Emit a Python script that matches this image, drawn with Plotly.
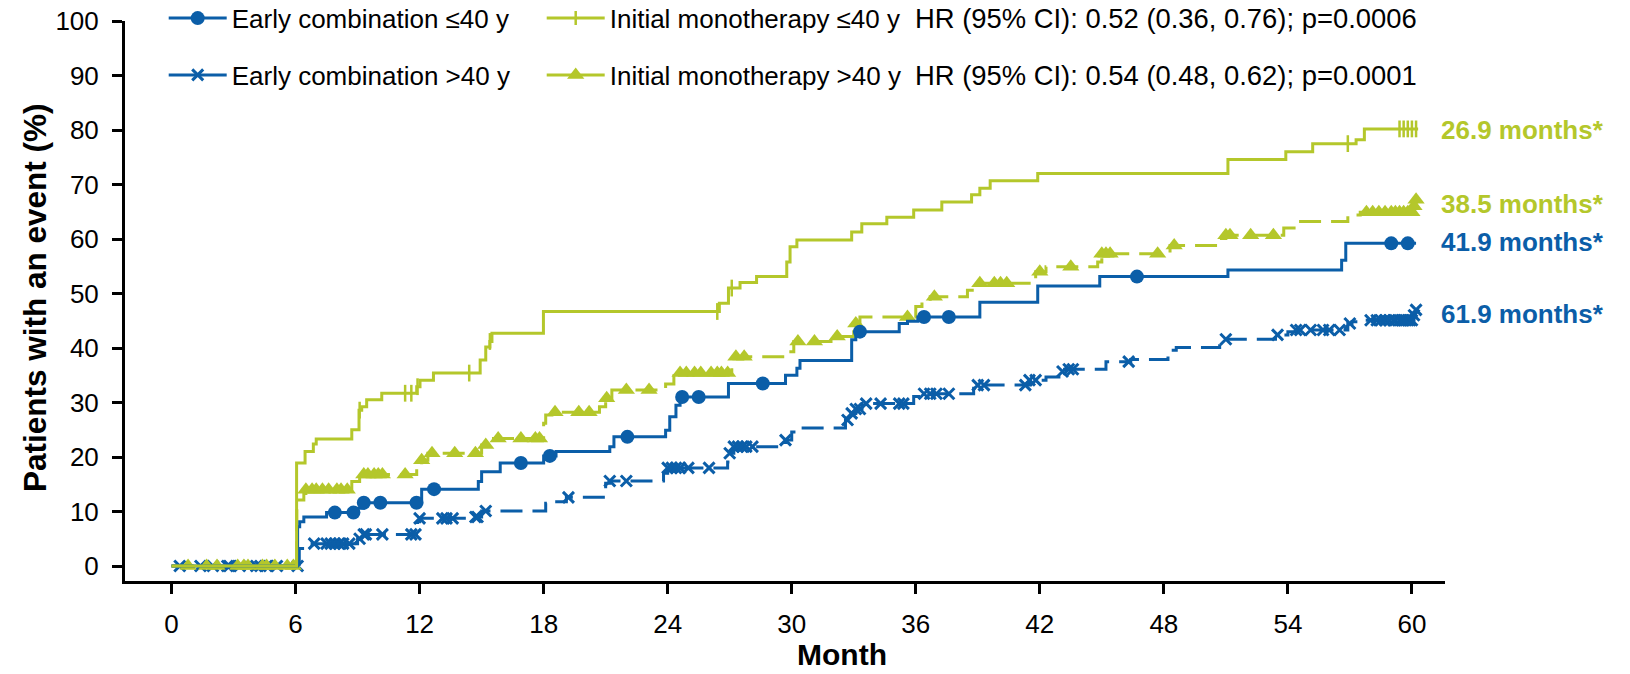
import numpy as np
import plotly.graph_objects as go

# ---------------- data ----------------
x_ticks = [0, 6, 12, 18, 24, 30, 36, 42, 48, 54, 60]
y_ticks = [0, 10, 20, 30, 40, 50, 60, 70, 80, 90, 100]

series_names = ["Early combination ≤40 y", "Initial monotherapy ≤40 y",
                "Early combination >40 y", "Initial monotherapy >40 y"]

# Early combination <=40 y (step function: time of change, cumulative %)
ec_le40_t = [0, 6.1, 6.2, 6.4, 7.5, 9.0, 9.3, 12.1, 14.84, 15.0, 15.9, 18.0, 18.6, 21.2, 21.4,
             23.9, 24.1, 24.4, 24.6, 26.94, 29.7, 30.25, 30.4, 32.9, 33.1, 35.2, 35.6, 36.1,
             39.1, 41.9, 44.9, 51.1, 56.6, 56.8, 60.2]
ec_le40_v = [0, 7.2, 8.1, 9.0, 9.8, 10.6, 11.6, 14.1, 15.5, 17.3, 18.9, 20.2, 21.0, 21.9, 23.7,
             24.9, 27.4, 29.5, 31.0, 33.5, 35.0, 36.3, 37.7, 41.5, 43.0, 44.5, 44.9, 45.7,
             48.4, 51.4, 53.1, 54.3, 56.1, 59.2, 59.2]
ec_le40_cens = [7.9, 8.8, 9.3, 10.1, 11.85, 12.7, 16.9, 18.3, 22.05, 24.7, 25.5, 28.6, 33.3,
                36.4, 37.6, 46.7, 59.0, 59.8]

# Early combination >40 y
ec_gt40_t = [0, 6.18, 6.8, 9.0, 9.3, 11.85, 11.9, 12.0, 14.7, 15.0, 18.1, 18.3, 19.1, 21.0, 21.2,
             23.8, 24.0, 26.9, 27.0, 27.2, 29.7, 30.0, 30.3, 32.6, 32.8, 33.1, 33.4, 35.9, 36.3,
             38.8, 39.0, 41.5, 42.3, 43.0, 43.2, 45.2, 46.4, 48.2, 48.6, 50.7, 51.0, 53.4, 54.0,
             54.4, 56.9, 57.1, 57.6, 60.1, 60.2]
ec_gt40_v = [0, 3.2, 4.1, 5.0, 5.8, 6.8, 8.1, 8.75, 9.0, 10.1, 11.5, 11.8, 12.6, 15.2, 15.6,
             17.0, 18.0, 19.1, 20.7, 21.9, 23.1, 24.6, 25.3, 26.8, 28.0, 28.8, 29.8, 31.1, 31.6,
             32.6, 33.2, 34.1, 34.7, 35.7, 36.1, 37.5, 37.9, 39.6, 40.1, 40.9, 41.6, 42.4, 43.0,
             43.3, 44.5, 44.8, 45.1, 46.0, 47.0]
ec_gt40_cens = [0.4, 1.4, 2.0, 2.7, 2.8, 3.3, 4.1, 4.3, 4.6, 5.1, 6.1, 6.9, 7.5, 7.7, 7.9, 8.1,
                8.3, 8.6, 9.1, 9.3, 9.4, 10.2, 11.6, 11.8, 12.0, 13.1, 13.3, 13.6, 14.7, 14.8,
                15.2, 19.2, 21.2, 22.0, 24.0, 24.2, 24.4, 24.6, 25.0, 26.0, 27.0, 27.2, 27.4,
                27.6, 27.8, 28.1, 29.7, 32.7, 32.9, 33.1, 33.3, 33.6, 34.3, 35.2, 35.4, 36.4,
                36.7, 37.0, 37.6, 39.0, 39.3, 41.3, 41.5, 41.8, 43.1, 43.4, 43.6, 46.3, 51.0,
                53.5, 54.4, 54.6, 55.1, 55.7, 56.0, 56.5, 57.0, 58.0, 58.3, 58.5, 58.7, 58.9,
                59.1, 59.2, 59.4, 59.5, 59.6, 59.7, 59.8, 59.9, 60.0, 60.1, 60.2]

# Initial monotherapy <=40 y
im_le40_t = [0, 6.05, 6.46, 6.86, 7.0, 8.72, 9.07, 9.2, 9.44, 10.17, 11.86, 12.02, 12.67, 14.93,
             15.2, 15.4, 15.5, 17.99, 26.5, 26.94, 27.5, 28.3, 29.76, 29.92, 30.25, 32.9, 33.39,
             34.6, 35.9, 37.26, 38.7, 39.1, 39.6, 41.9, 51.1, 53.9, 55.2, 57.3, 57.7, 60.3]
im_le40_v = [0, 18.9, 21.0, 22.4, 23.3, 25.0, 28.6, 29.2, 30.5, 31.7, 32.9, 34.1, 35.4, 37.8,
             40.2, 41.2, 42.7, 46.7, 48.2, 51.0, 52.0, 53.1, 55.8, 58.6, 59.8, 61.3, 62.8,
             64.0, 65.3, 66.8, 68.1, 69.3, 70.7, 72.0, 74.6, 76.0, 77.5, 78.2, 80.2, 80.2]
im_le40_cens = [9.1, 11.3, 11.6, 11.9, 14.4, 15.4, 26.4, 27.1, 56.9, 59.4, 59.6, 59.8, 60.0, 60.2]

# Initial monotherapy >40 y
im_gt40_t = [0, 6.06, 6.4, 6.5, 8.72, 9.1, 11.86, 12.1, 12.4, 15.0, 15.5, 18.0, 18.1, 18.4, 20.7,
             21.0, 21.3, 23.9, 24.3, 27.1, 27.2, 29.8, 30.1, 31.9, 33.0, 33.3, 36.0, 36.3, 36.7,
             38.5, 39.0, 41.8, 42.3, 44.8, 45.0, 48.3, 50.7, 51.0, 53.8, 54.3, 56.9, 57.5, 60.1,
             60.2]
im_gt40_v = [0, 12.1, 13.3, 14.0, 15.5, 16.8, 18.2, 19.4, 20.7, 22.2, 23.4, 26.2, 27.7, 28.2,
             29.2, 30.8, 32.3, 33.4, 35.4, 37.2, 38.4, 39.3, 41.2, 42.1, 44.5, 45.7, 47.6, 48.5,
             49.4, 50.6, 51.9, 54.0, 54.9, 55.8, 57.3, 58.8, 60.1, 60.7, 62.0, 63.2, 64.4, 64.9,
             66.0, 67.2]
im_gt40_cens = [0.8, 1.7, 2.2, 3.2, 3.5, 3.7, 4.4, 4.6, 5.0, 5.6, 5.9, 6.5, 6.8, 7.0, 7.3, 7.6,
                8.0, 8.2, 8.5, 9.3, 9.5, 9.8, 10.0, 10.2, 11.3, 12.1, 12.6, 13.7, 14.7, 15.2,
                15.8, 16.9, 17.6, 17.8, 18.55, 19.7, 20.2, 21.05, 22.0, 23.1, 24.6, 24.9, 25.3,
                25.6, 26.1, 26.4, 26.6, 26.9, 27.3, 27.7, 30.3, 31.1, 32.2, 33.1, 35.6, 36.9,
                39.1, 39.8, 40.1, 40.4, 42.0, 43.5, 45.0, 45.2, 45.4, 47.7, 48.5, 51.0, 51.2,
                52.2, 53.3, 57.8, 58.1, 58.4, 58.7, 59.0, 59.2, 59.4, 59.6, 59.8, 60.0, 60.1, 60.2]

hr_texts = ["HR (95% CI): 0.52 (0.36, 0.76); p=0.0006",
            "HR (95% CI): 0.54 (0.48, 0.62); p=0.0001"]
end_labels = ["26.9 months*", "38.5 months*", "41.9 months*", "61.9 months*"]
end_label_y = [80.0, 66.4, 59.4, 46.2]

# ---------------- styling ----------------
BLUE = "#0B5EA8"
GREEN = "#B4C72B"
FONT = "Liberation Sans, Arial, sans-serif"


def step_at(times, ts, vs):
    ts = np.asarray(ts)
    vs = np.asarray(vs)
    idx = np.searchsorted(ts, np.asarray(times), side="right") - 1
    return vs[np.clip(idx, 0, len(vs) - 1)]


fig = go.Figure()

specs = [
    # t, v, censor, color, dash, symbol, size, marker line width
    (ec_gt40_t, ec_gt40_v, ec_gt40_cens, BLUE, "22px,10px", "x-thin", 11, 3),
    (im_gt40_t, im_gt40_v, im_gt40_cens, GREEN, "22px,10px", "triangle-up", 15, 0),
    (ec_le40_t, ec_le40_v, ec_le40_cens, BLUE, "solid", "circle", 14, 0),
    (im_le40_t, im_le40_v, im_le40_cens, GREEN, "solid", "line-ns", 12, 2.5),
]

for t, v, cens, col, dash, sym, size, mlw in specs:
    fig.add_trace(go.Scatter(
        x=t, y=v, mode="lines", line=dict(color=col, width=3, dash=dash, shape="hv"),
        showlegend=False, hoverinfo="skip"))
    fig.add_trace(go.Scatter(
        x=cens, y=step_at(cens, t, v), mode="markers",
        marker=dict(symbol=sym, size=size, color=col, line=dict(color=col, width=mlw)),
        showlegend=False, hoverinfo="skip"))

# legend entries (order per row)
legend_order = [
    (series_names[0], BLUE, "circle", 14, 0, "legend"),
    (series_names[1], GREEN, "line-ns", 10, 2.5, "legend"),
    (series_names[2], BLUE, "x-thin", 11, 3, "legend2"),
    (series_names[3], GREEN, "triangle-up", 15, 0, "legend2"),
]
for name, col, sym, size, mlw, leg in legend_order:
    fig.add_trace(go.Scatter(
        x=[None], y=[None], mode="lines+markers", name=name, legend=leg,
        line=dict(color=col, width=3),
        marker=dict(symbol=sym, size=size, color=col, line=dict(color=col, width=mlw))))

L, R, T, B = 125, 185, 21, 93
W, H = 1630, 674
pw, ph = W - L - R, H - T - B


def px_x(p):
    return (p - L) / pw


def px_y(p):
    return (H - B - p) / ph


ROW1, ROW2 = 18.2, 75.0

leg_common = dict(orientation="h", xanchor="left", yanchor="middle", itemwidth=58,
                  entrywidth=305, entrywidthmode="pixels", bgcolor="rgba(0,0,0,0)",
                  font=dict(family=FONT, size=26, color="black"), tracegroupgap=0)

annotations = []
for i, txt in enumerate(hr_texts):
    annotations.append(dict(text=txt, xref="paper", yref="paper", x=px_x(913),
                            y=px_y([ROW1, ROW2][i]), xanchor="left", yanchor="middle",
                            showarrow=False, font=dict(family=FONT, size=27.4, color="black")))
for lab, yy, col in zip(end_labels, end_label_y, [GREEN, GREEN, BLUE, BLUE]):
    annotations.append(dict(text="<b>%s</b>" % lab, xref="x", yref="y", x=61.3, y=yy,
                            xanchor="left", yanchor="middle", showarrow=False,
                            font=dict(family=FONT, size=26, color=col)))
annotations.append(dict(text="<b>Month</b>", xref="paper", yref="paper", x=px_x(842),
                        y=px_y(673), xanchor="center", yanchor="bottom", showarrow=False,
                        font=dict(family=FONT, size=30, color="black")))
annotations.append(dict(text="<b>Patients with an event (%)</b>", xref="paper", yref="paper",
                        x=px_x(35), y=px_y(298), xanchor="center", yanchor="middle",
                        textangle=-90, showarrow=False,
                        font=dict(family=FONT, size=31.5, color="black")))

axis_common = dict(showline=True, linecolor="black", linewidth=3, ticks="outside",
                   ticklen=10, tickwidth=3, tickcolor="black", showgrid=False, zeroline=False,
                   tickfont=dict(family=FONT, size=26, color="black"), ticklabelstandoff=8)

fig.update_layout(
    width=W, height=H,
    margin=dict(l=L, r=R, t=T, b=B, autoexpand=False),
    paper_bgcolor="white", plot_bgcolor="white",
    font=dict(family=FONT, color="black"),
    xaxis=dict(range=[-2.25, 61.6], tickvals=x_ticks, **axis_common),
    yaxis=dict(range=[-2.75, 100], tickvals=y_ticks, **axis_common),
    legend=dict(x=px_x(163.7), y=px_y(ROW1), **leg_common),
    legend2=dict(x=px_x(163.7), y=px_y(ROW2), **leg_common),
    annotations=annotations,
)

fig.write_html("out.html")
